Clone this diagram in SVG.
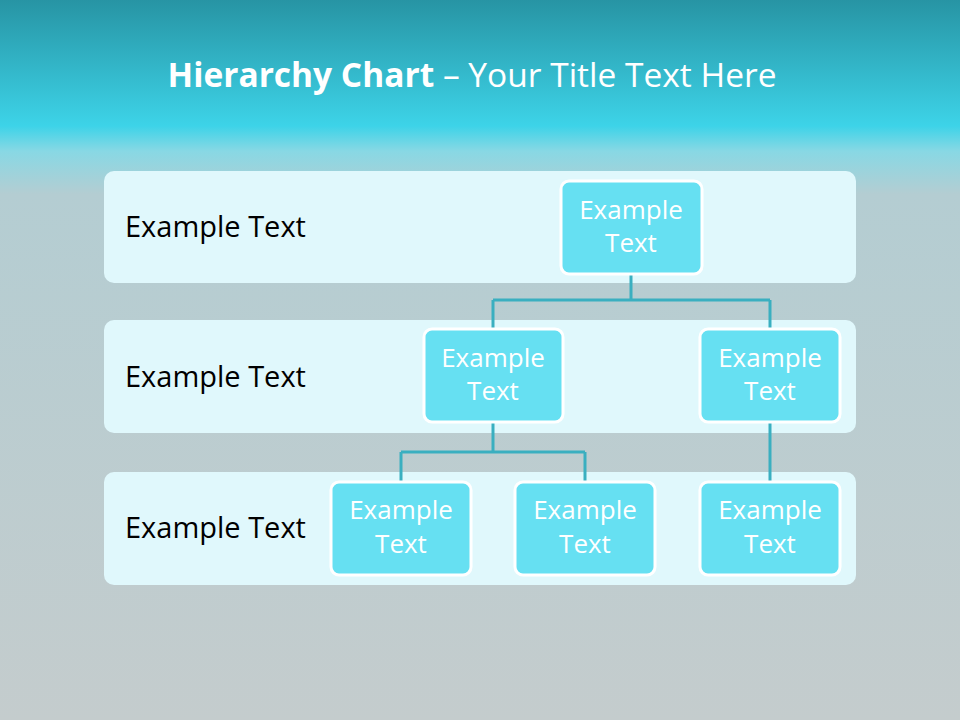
<svg xmlns="http://www.w3.org/2000/svg" width="960" height="720" viewBox="0 0 960 720">
<defs>
<linearGradient id="bg" x1="0" y1="0" x2="0" y2="1">
<stop offset="0" stop-color="#2794a4"/>
<stop offset="0.175" stop-color="#3dd3e8"/>
<stop offset="0.21" stop-color="#88d8e4"/>
<stop offset="0.27" stop-color="#b4cdd2"/>
<stop offset="1" stop-color="#c4cccd"/>
</linearGradient>
<style>
.band{fill:#e0f8fc;}
.node{fill:#66e0f2;stroke:#ffffff;stroke-width:3;}
.nt{font-family:"Open Sans","Noto Sans",sans-serif;font-size:26px;fill:#ffffff;text-anchor:middle;}
.bt{font-family:"Open Sans","Noto Sans",sans-serif;font-size:29px;fill:#000000;}
.con{fill:none;stroke:#3aafc0;stroke-width:3;}
</style>
</defs>
<rect x="0" y="0" width="960" height="720" fill="url(#bg)"/>
<text x="472" y="87" text-anchor="middle" font-family="Open Sans, Noto Sans, sans-serif" font-size="33.5" fill="#ffffff"><tspan font-weight="bold">Hierarchy Chart</tspan> – Your Title Text Here</text>
<g id="band1"><rect class="band" x="104" y="171" width="752" height="112" rx="10"/><text class="bt" x="125" y="237">Example Text</text></g>
<g id="band2"><rect class="band" x="104" y="320" width="752" height="113" rx="10"/><text class="bt" x="125" y="387">Example Text</text></g>
<g id="band3"><rect class="band" x="104" y="472" width="752" height="113" rx="10"/><text class="bt" x="125" y="538">Example Text</text></g>
<g id="connectors">
<path class="con" d="M631 274 V300 M493 300 H770 M493 300 V329 M770 300 V329"/>
<path class="con" d="M493 422 V452 M401 452 H585 M401 452 V482 M585 452 V482"/>
<path class="con" d="M770 422 V482"/>
</g>
<g id="n1"><rect class="node" x="561" y="181" width="141" height="93" rx="8"/><text class="nt" x="631" y="219">Example</text><text class="nt" x="631" y="252">Text</text></g>
<g id="n2"><rect class="node" x="424" y="329" width="139" height="93" rx="8"/><text class="nt" x="493" y="367">Example</text><text class="nt" x="493" y="400">Text</text></g>
<g id="n3"><rect class="node" x="700" y="329" width="140" height="93" rx="8"/><text class="nt" x="770" y="367">Example</text><text class="nt" x="770" y="400">Text</text></g>
<g id="n4"><rect class="node" x="331" y="482" width="140" height="93" rx="8"/><text class="nt" x="401" y="519">Example</text><text class="nt" x="401" y="553">Text</text></g>
<g id="n5"><rect class="node" x="515" y="482" width="140" height="93" rx="8"/><text class="nt" x="585" y="519">Example</text><text class="nt" x="585" y="553">Text</text></g>
<g id="n6"><rect class="node" x="700" y="482" width="140" height="93" rx="8"/><text class="nt" x="770" y="519">Example</text><text class="nt" x="770" y="553">Text</text></g>
</svg>
